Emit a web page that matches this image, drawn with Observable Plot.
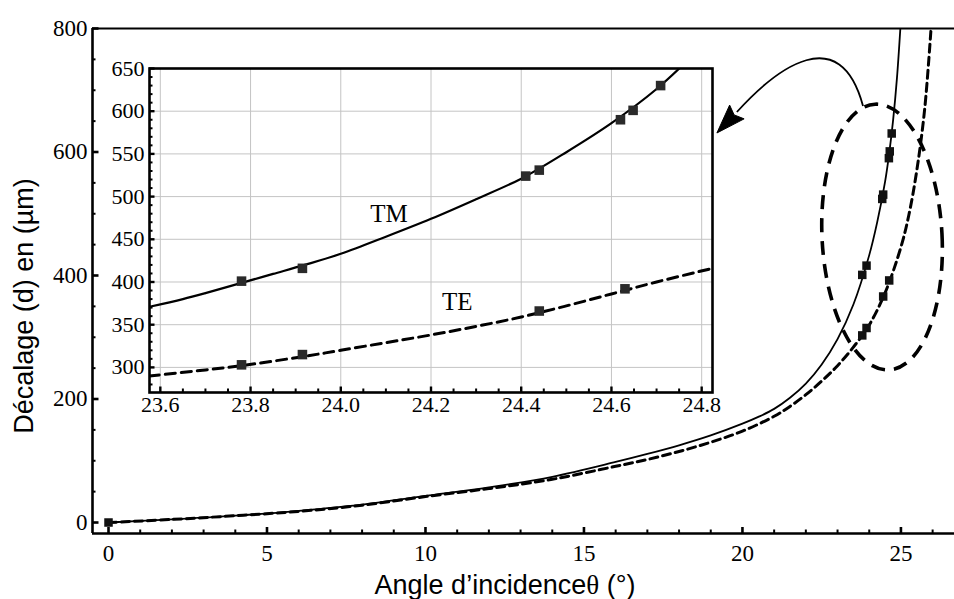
<!DOCTYPE html>
<html><head><meta charset="utf-8">
<script src="https://cdn.jsdelivr.net/npm/d3@7"></script>
<script src="https://cdn.jsdelivr.net/npm/@observablehq/plot@0.6"></script>
<style>
html,body{margin:0;padding:0;background:#fff;}
#wrap{position:relative;width:954px;height:599px;overflow:hidden;background:#fff;}
#main{position:absolute;left:0;top:0;}
#inset{position:absolute;left:100px;top:50px;}
svg{display:block;}
</style></head><body>
<div id="wrap"><div id="main"></div><div id="inset"></div></div>
<script>
// ---------- Main chart data ----------
const tmAngle = [0, 2, 4, 6, 8, 10, 12, 14, 16, 17, 18, 19, 20, 20.5, 21, 21.5, 22, 22.5, 23, 23.5, 24, 24.25, 24.5, 24.625, 24.75, 24.875, 25.0];
const tmShift = [0, 5, 11, 19, 29, 43, 57, 74, 98, 111, 125, 141, 160, 171, 184, 202, 225, 256, 297, 353, 433, 486, 552, 596, 650, 720, 815];
const teAngle = [0, 2, 4, 6, 8, 10, 12, 14, 16, 17, 18, 19, 20, 21, 21.5, 22, 22.5, 23, 23.5, 24, 24.5, 25, 25.25, 25.5, 25.75, 25.95];
const teShift = [0, 5, 11, 18, 28, 42, 55, 70, 91, 102, 115, 130, 148, 172, 188, 207, 229, 254, 284, 320, 372, 446, 498, 570, 670, 800];
const originAngle = [0];
const originShift = [0];

// ---------- Inset data ----------
const insetTmAngle = [23.576, 23.65, 23.7, 23.78, 23.85, 23.92, 24.0, 24.1, 24.2, 24.3, 24.4, 24.5, 24.6, 24.7, 24.77];
const insetTmShift = [371, 380, 387, 399, 409.5, 420, 433, 453, 474, 497, 521, 552, 586, 626, 660];
const insetTeAngle = [23.576, 23.7, 23.78, 23.92, 24.0, 24.1, 24.2, 24.3, 24.4, 24.5, 24.6, 24.7, 24.824];
const insetTeShift = [290, 297, 302, 313, 320, 329, 338, 348, 359, 372, 386, 400, 416];
const tmMarkAngle = [23.78, 23.915, 24.41, 24.44, 24.62, 24.648, 24.709];
const tmMarkShift = [401, 416, 524, 531, 590, 601, 630];
const teMarkAngle = [23.78, 23.915, 24.44, 24.63];
const teMarkShift = [303, 315, 366, 392];
const curveLabels = ["TM", "TE"];
const curveLabelAngle = [24.107, 24.258];
const curveLabelShift = [480, 376];

// ---------- Ticks / labels ----------
const xTicks = [0, 5, 10, 15, 20, 25];
const yTicks = [0, 200, 400, 600, 800];
const insetXTicks = [23.6, 23.8, 24.0, 24.2, 24.4, 24.6, 24.8];
const insetYTicks = [300, 350, 400, 450, 500, 550, 600, 650];
const xTitle = "Angle d’incidence";
const xTitleSymbol = "θ";
const xTitleUnit = " (°)";
const yTitle = "Décalage (d) en (µm)";

// ---------- Annotation anchors (data units of main chart) ----------
const arrowAngle = [23.82, 23.09, 21.10, 19.84];
const arrowShift = [673.7, 813, 735.2, 664];
const arrowTip = [19.21, 630];
const ellipseCenter = [24.42, 461.5];
const ellipseRadii = [1.893, 215.4];

// ---------- Build tables ----------
const tmMain = tmAngle.map((a, i) => ({a, d: tmShift[i]}));
const teMain = teAngle.map((a, i) => ({a, d: teShift[i]}));
const mainMarks = [
  ...originAngle.map((a, i) => ({a, d: originShift[i]})),
  ...tmMarkAngle.map((a, i) => ({a, d: tmMarkShift[i]})),
  ...teMarkAngle.map((a, i) => ({a, d: teMarkShift[i]}))
];
const tmInset = insetTmAngle.map((a, i) => ({a, d: insetTmShift[i]}));
const teInset = insetTeAngle.map((a, i) => ({a, d: insetTeShift[i]}));
const insetMarks = [
  ...tmMarkAngle.map((a, i) => ({a, d: tmMarkShift[i]})),
  ...teMarkAngle.map((a, i) => ({a, d: teMarkShift[i]}))
];
const labelsTable = curveLabels.map((t, i) => ({t, a: curveLabelAngle[i], d: curveLabelShift[i]}));

const serif = "Liberation Serif";
const sans = "Liberation Sans";

// ---------- Main plot ----------
const W = 954, H = 599, mL = 92, mT = 28, mR = 0, mB = 66;
const innerW = W - mL - mR, innerH = H - mT - mB;
const mainX = [-0.505, 26.69], mainY = [-17.8, 800];
const xMinor = d3.range(0, 27, 1).filter(v => v % 5 !== 0);
const yMinor = d3.range(0, 801, 50).filter(v => v % 200 !== 0);

function ellipseMark(index, {x, y}) {
  const cx = x(ellipseCenter[0]), cy = y(ellipseCenter[1]);
  const rx = Math.abs(x(ellipseCenter[0] + ellipseRadii[0]) - cx);
  const ry = Math.abs(y(ellipseCenter[1] + ellipseRadii[1]) - cy);
  return d3.create("svg:ellipse")
    .attr("cx", cx).attr("cy", cy).attr("rx", rx).attr("ry", ry)
    .attr("transform", `rotate(-3 ${cx} ${cy})`)
    .attr("fill", "none").attr("stroke", "#000").attr("stroke-width", 3.6)
    .attr("stroke-dasharray", "14,9").node();
}
function arrowMark(index, {x, y}) {
  const p = arrowAngle.map((a, i) => [x(a), y(arrowShift[i])]);
  const tip = [x(arrowTip[0]), y(arrowTip[1])];
  const g = d3.create("svg:g");
  g.append("path")
    .attr("d", `M${p[0]}C${p[1]} ${p[2]} ${p[3]}`)
    .attr("fill", "none").attr("stroke", "#000").attr("stroke-width", 1.8);
  const dx = tip[0] - p[3][0], dy = tip[1] - p[3][1];
  const len = Math.hypot(dx, dy), ux = dx / len, uy = dy / len;
  const hw = 10;
  const b1 = [p[3][0] - uy * hw, p[3][1] + ux * hw];
  const b2 = [p[3][0] + uy * hw, p[3][1] - ux * hw];
  g.append("path")
    .attr("d", `M${tip}L${b1}L${[p[3][0] + ux * 4, p[3][1] + uy * 4]}L${b2}Z`)
    .attr("fill", "#000").attr("stroke", "#000").attr("stroke-width", 1);
  return g.node();
}
function titlesMark() {
  const g = d3.create("svg:g").attr("fill", "#000");
  g.append("text")
    .attr("transform", "translate(33,306) rotate(-90)")
    .attr("text-anchor", "middle")
    .attr("font-family", sans).attr("font-size", 27)
    .text(yTitle);
  const t = g.append("text")
    .attr("x", 505).attr("y", 594)
    .attr("text-anchor", "middle")
    .attr("font-family", sans).attr("font-size", 27);
  t.append("tspan").text(xTitle);
  t.append("tspan").attr("font-family", serif).text(xTitleSymbol);
  t.append("tspan").text(xTitleUnit);
  return g.node();
}

const main = Plot.plot({
  width: W, height: H,
  marginLeft: mL, marginTop: mT, marginRight: mR, marginBottom: mB,
  style: {fontFamily: serif, color: "#000", background: "transparent", overflow: "visible"},
  x: {domain: mainX, axis: null},
  y: {domain: mainY, axis: null},
  marks: [
    Plot.line(tmMain, {x: "a", y: "d", stroke: "#000", strokeWidth: 1.8, curve: "catmull-rom", clip: true}),
    Plot.line(teMain, {x: "a", y: "d", stroke: "#000", strokeWidth: 3, strokeDasharray: "8,5", curve: "catmull-rom", clip: true}),
    Plot.dot(mainMarks, {x: "a", y: "d", symbol: "square", r: 4.8, fill: "#111", stroke: null}),
    ellipseMark,
    arrowMark,
    Plot.ruleY([mainY[0]], {stroke: "#000", strokeWidth: 2.6}),
    Plot.ruleY([mainY[1]], {stroke: "#000", strokeWidth: 2.2}),
    Plot.ruleX([mainX[0]], {stroke: "#000", strokeWidth: 2.6}),
    Plot.tickX(xTicks, {x: d => d, insetTop: innerH - 6, stroke: "#000", strokeWidth: 2.6}),
    Plot.tickX(xMinor, {x: d => d, insetTop: innerH - 3.5, stroke: "#000", strokeWidth: 2}),
    Plot.tickY(yTicks, {y: d => d, insetRight: innerW - 6.5, stroke: "#000", strokeWidth: 2.6}),
    Plot.tickY(yMinor, {y: d => d, insetRight: innerW - 3.5, stroke: "#000", strokeWidth: 2}),
    Plot.axisX(xTicks, {tickSize: 0, tickPadding: 11, fontSize: 23, fontFamily: serif, label: null, fill: "#000"}),
    Plot.axisY(yTicks, {tickSize: 0, tickPadding: 5, fontSize: 23, fontFamily: serif, label: null, fill: "#000"}),
    titlesMark
  ]
});
document.getElementById("main").append(main);

// ---------- Inset plot ----------
const iW = 620, iH = 370, iL = 49, iT = 18, iR = 8, iB = 28;
const iInnerW = iW - iL - iR, iInnerH = iH - iT - iB;
const insetX = [23.576, 24.824], insetY = [270.6, 650];
const insetXMinor = d3.range(23.6, 24.826, 0.05).map(v => +v.toFixed(2)).filter(v => Math.abs(v * 5 - Math.round(v * 5)) > 1e-6);
const insetYMinor = d3.range(280, 650, 10).filter(v => v % 50 !== 0);

const inset = Plot.plot({
  width: iW, height: iH,
  marginLeft: iL, marginTop: iT, marginRight: iR, marginBottom: iB,
  style: {fontFamily: serif, color: "#000", background: "transparent", overflow: "visible"},
  x: {domain: insetX, axis: null},
  y: {domain: insetY, axis: null},
  marks: [
    Plot.frame({fill: "#fff", stroke: null}),
    Plot.ruleX(insetXTicks, {stroke: "#c4c4c4", strokeWidth: 1}),
    Plot.ruleY(insetYTicks, {stroke: "#c4c4c4", strokeWidth: 1}),
    Plot.line(tmInset, {x: "a", y: "d", stroke: "#000", strokeWidth: 2.2, curve: "catmull-rom", clip: true}),
    Plot.line(teInset, {x: "a", y: "d", stroke: "#000", strokeWidth: 3, strokeDasharray: "10,6", curve: "catmull-rom", clip: true}),
    Plot.dot(insetMarks, {x: "a", y: "d", symbol: "square", r: 5.4, fill: "#2a2a2a", stroke: null}),
    Plot.text(labelsTable, {x: "a", y: "d", text: "t", fontSize: 25, fontFamily: serif, fill: "#000"}),
    Plot.frame({stroke: "#000", strokeWidth: 2.6}),
    Plot.tickX(insetXTicks, {x: d => d, insetTop: iInnerH - 5.5, stroke: "#000", strokeWidth: 2.4}),
    Plot.tickX(insetXMinor, {x: d => d, insetTop: iInnerH - 3.5, stroke: "#000", strokeWidth: 2}),
    Plot.tickY(insetYTicks, {y: d => d, insetRight: iInnerW - 5.5, stroke: "#000", strokeWidth: 2.4}),
    Plot.tickY(insetYMinor, {y: d => d, insetRight: iInnerW - 3.5, stroke: "#000", strokeWidth: 2}),
    Plot.axisX(insetXTicks, {tickSize: 0, tickPadding: 4, fontSize: 22, fontFamily: serif, tickFormat: d3.format(".1f"), label: null, fill: "#000"}),
    Plot.axisY(insetYTicks, {tickSize: 0, tickPadding: 5, fontSize: 22, fontFamily: serif, label: null, fill: "#000"})
  ]
});
document.getElementById("inset").append(inset);
</script>
</body></html>
